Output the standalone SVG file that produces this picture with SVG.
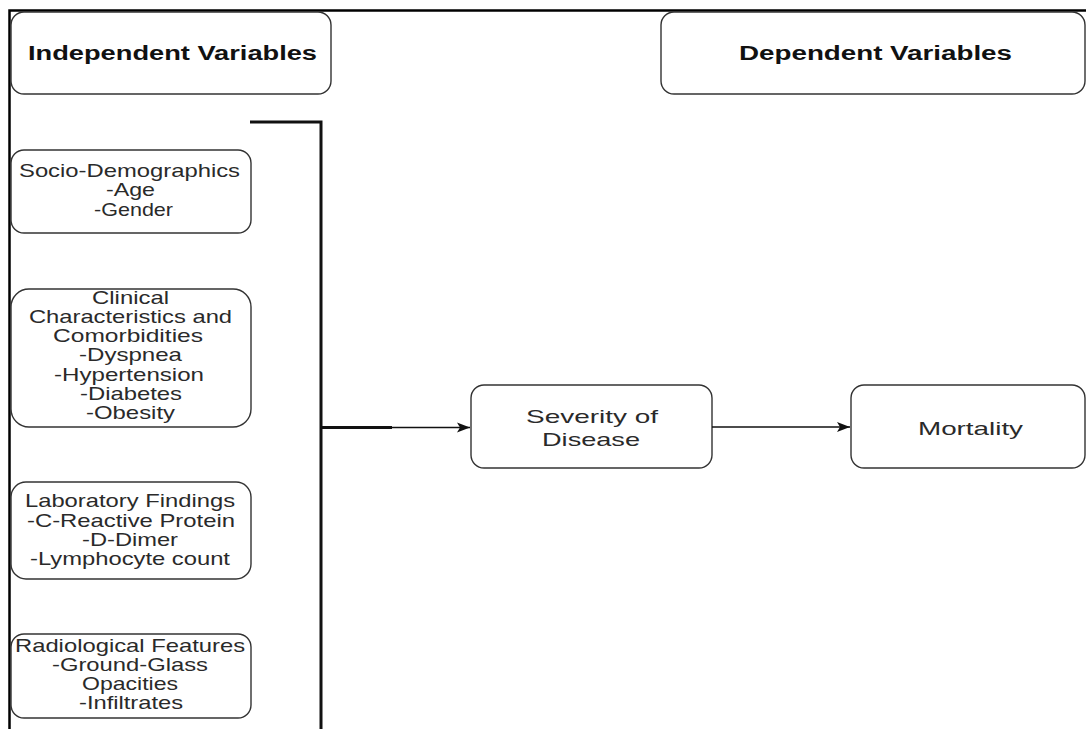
<svg xmlns="http://www.w3.org/2000/svg" width="1086" height="729" viewBox="0 0 1086 729">
<style>
.box{fill:#fff;stroke:#333;stroke-width:1.4}
.t{font-family:"Liberation Sans",Arial,sans-serif;font-size:17.5px;fill:#2a2a2a;text-anchor:middle}
.h{font-family:"Liberation Sans",Arial,sans-serif;font-size:20px;font-weight:bold;fill:#111;text-anchor:middle}
.frame{fill:none;stroke:#000;stroke-width:2.5}
.thick{fill:none;stroke:#111;stroke-width:3}
.thin{fill:none;stroke:#111;stroke-width:1.3}
</style>
<defs>
<marker id="arr" markerWidth="14" markerHeight="12" refX="13" refY="6" orient="auto" markerUnits="userSpaceOnUse">
<path d="M0,1 L13,6 L0,11 L3,6 Z" fill="#111"/>
</marker>
</defs>
<rect width="1086" height="729" fill="#fff"/>
<g id="frame">
<path class="frame" d="M9.5,729 V10.5 H1086"/>
</g>
<g id="independent-header">
<rect class="box" x="11" y="12" width="320" height="82" rx="13"/>
<text class="h" transform="translate(172.5,0) scale(1.36,1)" x="0" y="60" textLength="212.5" lengthAdjust="spacingAndGlyphs">Independent Variables</text>
</g>
<g id="dependent-header">
<rect class="box" x="661" y="12" width="424" height="82" rx="13"/>
<text class="h" transform="translate(875.5,0) scale(1.36,1)" x="0" y="60" textLength="200.7" lengthAdjust="spacingAndGlyphs">Dependent Variables</text>
</g>
<g id="socio">
<rect class="box" x="11" y="150" width="240" height="83" rx="13"/>
<text class="t" transform="translate(129.5,0) scale(1.35,1)" x="0" y="177" textLength="163.7" lengthAdjust="spacingAndGlyphs">Socio-Demographics</text>
<text class="t" transform="translate(130.5,0) scale(1.35,1)" x="0" y="196.5" textLength="36.3" lengthAdjust="spacingAndGlyphs">-Age</text>
<text class="t" transform="translate(133.5,0) scale(1.35,1)" x="0" y="216" textLength="58.5" lengthAdjust="spacingAndGlyphs">-Gender</text>
</g>
<g id="clinical">
<rect class="box" x="11" y="289" width="240" height="138" rx="18"/>
<text class="t" transform="translate(130.5,0) scale(1.35,1)" x="0" y="304" textLength="57" lengthAdjust="spacingAndGlyphs">Clinical</text>
<text class="t" transform="translate(130.5,0) scale(1.35,1)" x="0" y="323" textLength="150.4" lengthAdjust="spacingAndGlyphs">Characteristics and</text>
<text class="t" transform="translate(128,0) scale(1.35,1)" x="0" y="342" textLength="111.1" lengthAdjust="spacingAndGlyphs">Comorbidities</text>
<text class="t" transform="translate(130.5,0) scale(1.35,1)" x="0" y="361.5" textLength="76.3" lengthAdjust="spacingAndGlyphs">-Dyspnea</text>
<text class="t" transform="translate(129,0) scale(1.35,1)" x="0" y="381" textLength="111.1" lengthAdjust="spacingAndGlyphs">-Hypertension</text>
<text class="t" transform="translate(131,0) scale(1.35,1)" x="0" y="400" textLength="75.6" lengthAdjust="spacingAndGlyphs">-Diabetes</text>
<text class="t" transform="translate(130.5,0) scale(1.35,1)" x="0" y="419" textLength="65.9" lengthAdjust="spacingAndGlyphs">-Obesity</text>
</g>
<g id="laboratory">
<rect class="box" x="11" y="482" width="240" height="97" rx="15"/>
<text class="t" transform="translate(130,0) scale(1.35,1)" x="0" y="507" textLength="155.6" lengthAdjust="spacingAndGlyphs">Laboratory Findings</text>
<text class="t" transform="translate(131,0) scale(1.35,1)" x="0" y="527" textLength="154.1" lengthAdjust="spacingAndGlyphs">-C-Reactive Protein</text>
<text class="t" transform="translate(130,0) scale(1.35,1)" x="0" y="546" textLength="71.1" lengthAdjust="spacingAndGlyphs">-D-Dimer</text>
<text class="t" transform="translate(130,0) scale(1.35,1)" x="0" y="565" textLength="148.1" lengthAdjust="spacingAndGlyphs">-Lymphocyte count</text>
</g>
<g id="radiological">
<rect class="box" x="11" y="634" width="240" height="84" rx="13"/>
<text class="t" transform="translate(130,0) scale(1.35,1)" x="0" y="652" textLength="170.4" lengthAdjust="spacingAndGlyphs">Radiological Features</text>
<text class="t" transform="translate(130,0) scale(1.35,1)" x="0" y="671" textLength="115.6" lengthAdjust="spacingAndGlyphs">-Ground-Glass</text>
<text class="t" transform="translate(130,0) scale(1.35,1)" x="0" y="690" textLength="71.1" lengthAdjust="spacingAndGlyphs">Opacities</text>
<text class="t" transform="translate(131,0) scale(1.35,1)" x="0" y="709" textLength="77" lengthAdjust="spacingAndGlyphs">-Infiltrates</text>
</g>
<g id="severity">
<rect class="box" x="471" y="385" width="241" height="83" rx="13"/>
<text class="t" transform="translate(592,0) scale(1.35,1)" x="0" y="423" textLength="97.8" lengthAdjust="spacingAndGlyphs">Severity of</text>
<text class="t" transform="translate(591,0) scale(1.35,1)" x="0" y="446" textLength="72.6" lengthAdjust="spacingAndGlyphs">Disease</text>
</g>
<g id="mortality">
<rect class="box" x="851" y="385" width="234" height="83" rx="13"/>
<text class="t" transform="translate(970.5,0) scale(1.35,1)" x="0" y="435" textLength="77.8" lengthAdjust="spacingAndGlyphs">Mortality</text>
</g>
<g id="connectors">
<path class="thick" d="M250,122 H321 V729"/>
<path class="thick" d="M321,427.5 H392"/>
<path class="thin" d="M392,427.5 H470" marker-end="url(#arr)"/>
<path class="thin" d="M712,427 H850" marker-end="url(#arr)"/>
</g>
</svg>
